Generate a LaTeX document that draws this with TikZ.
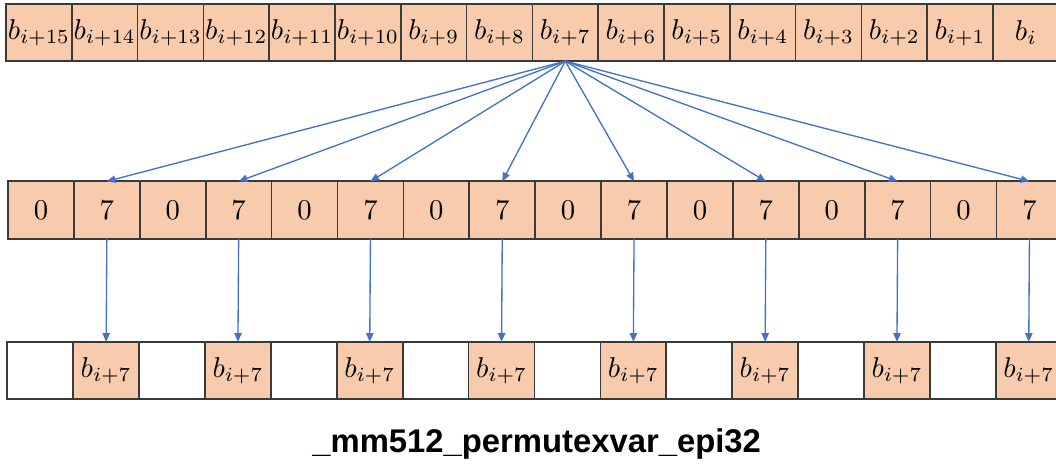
\documentclass[tikz,border=0pt]{standalone}
\usepackage{graphicx}
\usepackage{fontspec}
\newfontfamily\titlefont{Liberation Sans}
\usetikzlibrary{arrows.meta}
\definecolor{cellfill}{HTML}{F8CBAD}
\definecolor{cellline}{HTML}{3A3A3A}
\definecolor{arrowblue}{HTML}{4472C4}
\newcommand\celltext[1]{\scalebox{2.15}{#1}}
\tikzset{
  cellbox/.style={draw=cellline, line width=1.3pt, inner sep=0pt, outer sep=0pt,
    minimum width=49.4pt, minimum height=43pt},
  fullcell/.style={cellbox, fill=cellfill},
  emptycell/.style={cellbox, fill=white},
  moveline/.style={draw=arrowblue, line width=1pt,
    -{Triangle[length=6.5pt,width=5.5pt]}},
}
\begin{document}
\begin{tikzpicture}[x=0.75pt,y=-0.75pt]
  \clip (0,0) rectangle (1056,467);
  \fill[white] (0,0) rectangle (1056,467);

  % source register: b_{i+15} ... b_{i}
  \foreach \k in {0,...,15} {
    \pgfmathtruncatemacro{\off}{15-\k}
    \ifnum\off=0
      \node[fullcell] (t\k) at ({6+65.8*(\k+0.5)},32.5) {\celltext{$b_{i}$}};
    \else
      \node[fullcell] (t\k) at ({6+65.8*(\k+0.5)},32.5) {\celltext{$b_{i+\off}$}};
    \fi
  }

  % index register: 0 7 0 7 ...
  \foreach \k in {0,...,15} {
    \pgfmathtruncatemacro{\parity}{mod(\k,2)}
    \ifnum\parity=0
      \node[fullcell] (m\k) at ({8+65.9*(\k+0.5)},210) {\celltext{0}};
    \else
      \node[fullcell] (m\k) at ({8+65.9*(\k+0.5)},210) {\celltext{7}};
    \fi
  }

  % result register
  \foreach \k in {0,...,15} {
    \pgfmathtruncatemacro{\parity}{mod(\k,2)}
    \ifnum\parity=0
      \node[emptycell] (r\k) at ({7.3+65.9*(\k+0.5)},370.5) {};
    \else
      \node[fullcell] (r\k) at ({7.3+65.9*(\k+0.5)},370.5) {\celltext{$b_{i+7}$}};
    \fi
  }

  % element b_{i+7} selected by index 7
  \foreach \k in {1,3,...,15} {
    \draw[moveline] (t8.south) -- (m\k.north);
    \draw[moveline] (m\k.south) -- (r\k.north);
  }

  \node[font=\titlefont\bfseries\fontsize{24.6}{29}\selectfont, anchor=base] (title)
    at (536.7,452) {\_mm512\_permutexvar\_epi32};
\end{tikzpicture}
\end{document}
